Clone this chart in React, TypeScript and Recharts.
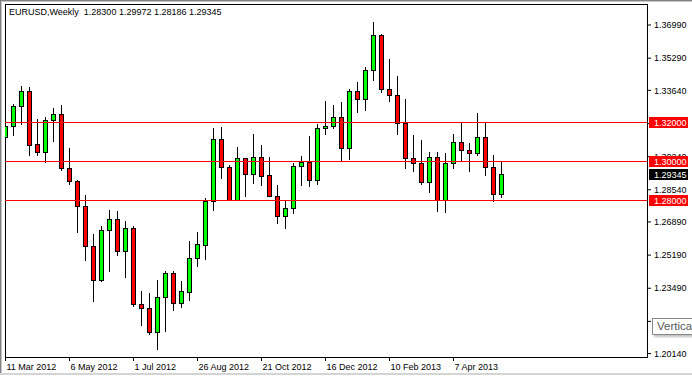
import React from 'react';
import { ComposedChart, Bar, XAxis, YAxis, ReferenceLine, ReferenceArea } from 'recharts';

const FONT = '"Liberation Sans", Arial, sans-serif';

// weekly EURUSD candles, first bar = week of 11 Mar 2012
const opens = [
  1.3123, 1.3179, 1.3282, 1.3359, 1.3087, 1.3046, 1.3210, 1.3241, 1.2964, 1.2897,
  1.2769, 1.2564, 1.2393, 1.2646, 1.2703, 1.2538, 1.2656, 1.2267, 1.2246, 1.2125,
  1.2303, 1.2426, 1.2272, 1.2328, 1.2504, 1.2573, 1.2795, 1.3113, 1.2969, 1.2803,
  1.3015, 1.2933, 1.3021, 1.2928, 1.2821, 1.2718, 1.2759, 1.2974, 1.2995, 1.2906,
  1.3169, 1.3179, 1.3226, 1.3067, 1.3359, 1.3318, 1.3467, 1.3646, 1.3369, 1.3338,
  1.3195, 1.3015, 1.2990, 1.2892, 1.3021, 1.2803, 1.2990, 1.3097, 1.3056, 1.3041,
  1.3123, 1.2969, 1.2830,
];
const highs = [
  1.3191, 1.3294, 1.3385, 1.3379, 1.3217, 1.3227, 1.3274, 1.3287, 1.3068, 1.2903,
  1.2826, 1.2627, 1.2667, 1.2749, 1.2745, 1.2692, 1.2667, 1.2333, 1.2323, 1.2390,
  1.2439, 1.2439, 1.2385, 1.2591, 1.2636, 1.2812, 1.3171, 1.3176, 1.2981, 1.3074,
  1.3018, 1.3140, 1.3084, 1.3022, 1.2879, 1.2800, 1.2990, 1.3027, 1.3130, 1.3190,
  1.3309, 1.3289, 1.3304, 1.3371, 1.3407, 1.3482, 1.3715, 1.3655, 1.3523, 1.3436,
  1.3320, 1.3135, 1.3109, 1.3046, 1.3046, 1.3041, 1.3140, 1.3200, 1.3092, 1.3246,
  1.3197, 1.3031, 1.29972,
];
const lows = [
  1.3000, 1.3133, 1.3191, 1.3034, 1.3034, 1.2995, 1.3106, 1.2954, 1.2882, 1.2639,
  1.2496, 1.2285, 1.2385, 1.2439, 1.2518, 1.2405, 1.2256, 1.2159, 1.2113, 1.2039,
  1.2132, 1.2239, 1.2255, 1.2291, 1.2465, 1.2501, 1.2752, 1.2916, 1.2800, 1.2800,
  1.2824, 1.2891, 1.2880, 1.2820, 1.2685, 1.2660, 1.2737, 1.2880, 1.2875, 1.2885,
  1.3140, 1.3169, 1.3000, 1.3014, 1.3255, 1.3265, 1.3415, 1.3354, 1.3308, 1.3142,
  1.2968, 1.2952, 1.2885, 1.2844, 1.2747, 1.2742, 1.2968, 1.3000, 1.2952, 1.3031,
  1.2932, 1.2795, 1.28186,
];
const closes = [
  1.3179, 1.3282, 1.3359, 1.3085, 1.3046, 1.3210, 1.3241, 1.2964, 1.2897, 1.2769,
  1.2564, 1.2393, 1.2646, 1.2703, 1.2538, 1.2656, 1.2267, 1.2246, 1.2125, 1.2303,
  1.2426, 1.2272, 1.2333, 1.2504, 1.2574, 1.2795, 1.3113, 1.2969, 1.2803, 1.3015,
  1.2933, 1.3021, 1.2923, 1.2821, 1.2718, 1.2759, 1.2974, 1.2995, 1.2906, 1.3169,
  1.3179, 1.3226, 1.3067, 1.3359, 1.3318, 1.3467, 1.3646, 1.3369, 1.3338, 1.3195,
  1.3015, 1.2990, 1.2892, 1.3021, 1.2803, 1.2990, 1.3097, 1.3056, 1.3041, 1.3123,
  1.2969, 1.2831, 1.29345,
];

const xTickIndex = [0, 8, 16, 24, 32, 40, 48, 56];
const xTickLabels = [
  '11 Mar 2012', '6 May 2012', '1 Jul 2012', '26 Aug 2012',
  '21 Oct 2012', '16 Dec 2012', '10 Feb 2013', '7 Apr 2013',
];
const yTicks = [1.3699, 1.3529, 1.3364, 1.3194, 1.3024, 1.2854, 1.2689, 1.2519, 1.2349, 1.2179, 1.2014];
const levels = [1.32, 1.3, 1.28];
const lastPrice = 1.29345;
const header = 'EURUSD,Weekly  1.28300 1.29972 1.28186 1.29345';

const X_DOMAIN: [number, number] = [-0.0625, 80.1875];
const Y_DOMAIN: [number, number] = [1.19964, 1.38067];

const data = opens.map((open, i) => ({
  i,
  open,
  high: highs[i],
  low: lows[i],
  close: closes[i],
  range: [lows[i], highs[i]],
}));

function Candle(props: any) {
  const { x, y, width, height, payload } = props;
  const { open, close, high, low } = payload;
  const h = Math.abs(height);
  const top = height >= 0 ? y : y + height;
  const k = h / (high - low);
  const cx = Math.floor(x + width / 2) + 0.5;
  const yHi = Math.round(top);
  const yLo = Math.round(top + h);
  const yO = Math.round(top + (high - open) * k);
  const yC = Math.round(top + (high - close) * k);
  const bTop = Math.min(yO, yC);
  const bBot = Math.max(yO, yC);
  return (
    <g shapeRendering="crispEdges">
      <line x1={cx} x2={cx} y1={yHi} y2={yLo + 1} stroke="#000" />
      <rect
        x={cx - 2}
        y={bTop + 0.5}
        width={4}
        height={Math.max(bBot - bTop, 1)}
        fill={close >= open ? '#00ff00' : '#ff0000'}
        stroke="#000"
      />
    </g>
  );
}

function XTick(props: any) {
  const { x, y, payload } = props;
  const label = xTickLabels[xTickIndex.indexOf(payload.value)];
  return (
    <text x={x + 1} y={y + 7} fontSize={9} fontFamily={FONT} fill="#000" textAnchor="start">
      {label}
    </text>
  );
}

function YTick(props: any) {
  const { x, y, payload } = props;
  return (
    <text x={x} y={y + 3.2} fontSize={9} fontFamily={FONT} fill="#000" textAnchor="start">
      {Number(payload.value).toFixed(5)}
    </text>
  );
}

const priceTag = (value: number, bg: string) => (props: any) => {
  const vb = props.viewBox;
  const left = vb.x + vb.width + 2;
  const mid = Math.round(vb.y);
  return (
    <g shapeRendering="crispEdges">
      <rect x={left} y={mid - 5} width={39} height={11} fill={bg} />
      <text x={left + 5} y={mid + 3.5} fontSize={9} fontFamily={FONT} fill="#fff">
        {value.toFixed(5)}
      </text>
    </g>
  );
};

export default function App() {
  return (
    <div style={{ position: 'relative', width: 692, height: 377, overflow: 'hidden', background: '#fff' }}>
      <style>{'body{margin:0}'}</style>
      <ComposedChart width={692} height={377} data={data} margin={{ top: 4, right: 0, bottom: 0, left: 5 }}>
        <XAxis
          type="number"
          dataKey="i"
          domain={X_DOMAIN}
          ticks={xTickIndex}
          interval={0}
          allowDataOverflow
          height={20}
          axisLine={false}
          stroke="#000"
          tickLine={{ stroke: '#000' }}
          tickSize={4}
          tickMargin={2}
          tick={<XTick />}
        />
        <YAxis
          orientation="right"
          domain={Y_DOMAIN}
          ticks={yTicks}
          interval={0}
          allowDataOverflow
          width={45}
          axisLine={false}
          stroke="#000"
          tickLine={{ stroke: '#000' }}
          tickSize={4}
          tickMargin={3}
          tick={<YTick />}
          {...({ zIndex: 0 } as any)}
        />
        <Bar dataKey="range" barSize={5} shape={(p: any) => <Candle {...p} />} isAnimationActive={false} />
        {levels.map((lv) => (
          <ReferenceLine
            key={lv}
            y={lv}
            stroke="#ff0000"
            strokeWidth={1}
            shapeRendering="crispEdges"
            label={priceTag(lv, '#ff0000')}
            {...({ zIndex: 2500 } as any)}
          />
        ))}
        <ReferenceLine
          y={lastPrice}
          stroke="none"
          label={priceTag(lastPrice, '#000')}
          {...({ zIndex: 2500 } as any)}
        />
        <ReferenceArea
          x1={X_DOMAIN[0]}
          x2={X_DOMAIN[1]}
          y1={Y_DOMAIN[0]}
          y2={Y_DOMAIN[1]}
          fill="none"
          fillOpacity={0}
          stroke="#000"
          strokeOpacity={1}
          shapeRendering="crispEdges"
        />
      </ComposedChart>
      <div
        style={{
          position: 'absolute',
          left: 9,
          top: 7,
          fontFamily: FONT,
          fontSize: 9,
          lineHeight: '11px',
          whiteSpace: 'pre',
          color: '#000',
        }}
      >
        {header}
      </div>
      <div
        style={{
          position: 'absolute',
          left: 652,
          top: 318,
          width: 70,
          height: 15,
          border: '1px solid #8a8a8a',
          background: '#fff',
          boxShadow: '2px 2px 2px rgba(0,0,0,0.25)',
          fontFamily: FONT,
          fontSize: 11.5,
          lineHeight: '15px',
          color: '#575757',
          paddingLeft: 4,
          whiteSpace: 'nowrap',
        }}
      >
        Vertical Line
      </div>
      <div style={{ position: 'absolute', left: 0, top: 0, width: 692, height: 1, background: '#808080' }} />
      <div style={{ position: 'absolute', left: 0, top: 1, width: 692, height: 1, background: '#c8c8c8' }} />
      <div style={{ position: 'absolute', left: 0, top: 0, width: 1, height: 374, background: '#808080' }} />
      <div style={{ position: 'absolute', left: 1, top: 1, width: 1, height: 373, background: '#c8c8c8' }} />
      <div style={{ position: 'absolute', left: 0, top: 373, width: 692, height: 2, background: '#d4d4d4' }} />
    </div>
  );
}
